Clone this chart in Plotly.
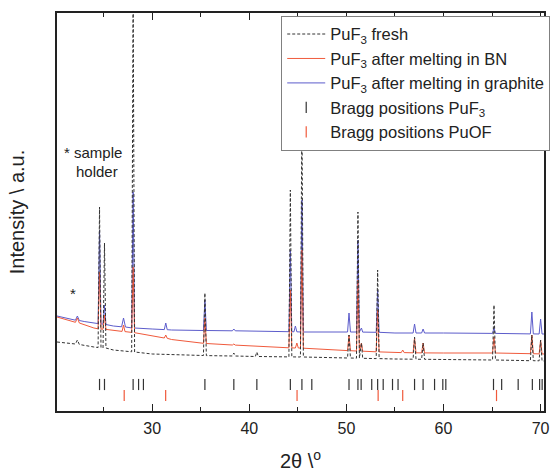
import plotly.graph_objects as go

# ---- data (2theta in degrees, intensity in arbitrary units) ----
tt_fresh = [20.2, 22.0, 22.1, 22.3, 22.5, 24.0, 24.43, 24.58, 24.73, 24.94, 25.09, 25.24, 26.0,
            27.89, 28.04, 28.19, 30.0, 35.28, 35.43, 35.58, 38.26, 38.41, 38.56, 40.63, 40.78, 40.93,
            44.08, 44.23, 44.38, 45.27, 45.42, 45.57, 50.12, 50.27, 50.42, 51.04, 51.19, 51.34,
            51.55, 51.68, 53.07, 53.22, 53.37, 55.0, 56.87, 57.02, 57.17, 57.75, 57.9, 58.05, 60.0,
            65.05, 65.2, 65.35, 68.95, 69.1, 69.25, 69.85, 70.0, 70.15, 70.35]
i_fresh = [69, 67, 67, 71, 66.5, 64, 63.5, 204, 63.5, 63, 168, 63, 61,
           59.2, 420, 59, 57, 55.5, 118, 55.4, 55, 58, 55, 54.5, 59, 54.5,
           54.1, 221, 54.1, 54, 300, 54, 53, 76, 53, 52.8, 199, 52.8,
           68, 52.7, 52.4, 141, 52.4, 52, 51.8, 74, 51.8, 51.7, 68, 51.7, 51.5,
           51, 106, 51, 50.3, 76, 50.3, 50.2, 71, 50.1, 50]

tt_bn = [20.2, 22.0, 22.1, 22.3, 22.5, 24.0, 24.43, 24.58, 24.73, 24.94, 25.09, 25.24, 26.0,
         26.9, 27.05, 27.2, 27.89, 28.04, 28.19, 30.0, 31.25, 31.4, 31.55, 32.0,
         35.28, 35.43, 35.58, 38.26, 38.41, 38.56, 40.0, 44.08, 44.23, 44.38, 44.75, 44.9, 45.05,
         45.27, 45.42, 45.57, 50.12, 50.27, 50.42, 51.04, 51.19, 51.34, 51.55, 51.68,
         53.07, 53.22, 53.37, 55.0, 55.65, 55.8, 55.95, 56.87, 57.02, 57.17, 57.75, 57.9, 58.05,
         60.0, 65.05, 65.2, 65.35, 68.95, 69.1, 69.25, 69.85, 70.0, 70.15, 70.35]
i_bn = [94, 89, 88.7, 93, 88, 83, 82.2, 139, 82, 81.8, 96, 81.6, 80.5,
        79.6, 86, 79.4, 78.6, 144, 78.3, 75, 73, 76, 72.7, 71.5,
        67.7, 93, 67.5, 66, 67, 65.9, 65, 63.2, 121, 63.1, 63, 68, 63,
        62.9, 161, 62.8, 60.4, 76, 60.3, 60, 131, 59.9, 68, 59.8,
        59.2, 101, 59.1, 58.5, 58.4, 61, 58.4, 58.2, 73, 58.2, 58.1, 68, 58.1,
        58, 58, 74, 58, 57.3, 76, 57.3, 57.1, 71, 57.1, 57]

tt_gr = [20.2, 21.0, 22.0, 22.1, 22.3, 22.5, 23.0, 24.0, 24.43, 24.58, 24.73, 24.94, 25.09, 25.24,
         26.0, 26.85, 27.05, 27.25, 27.89, 28.04, 28.19, 30.0, 31.25, 31.4, 31.55, 32.0,
         35.28, 35.43, 35.58, 38.26, 38.41, 38.56, 40.0, 44.08, 44.23, 44.38, 44.6, 44.75, 44.9,
         45.27, 45.42, 45.57, 50.12, 50.27, 50.42, 51.04, 51.19, 51.34, 51.55, 51.68,
         53.07, 53.22, 53.37, 55.0, 56.87, 57.02, 57.17, 57.75, 57.9, 58.05, 60.0,
         65.05, 65.2, 65.35, 68.95, 69.1, 69.25, 69.85, 70.0, 70.15, 70.35]
i_gr = [95, 93, 91, 90.8, 95, 90.5, 89.5, 88, 87.4, 181, 87.2, 86.8, 106, 86.5,
        85, 84.2, 93, 84, 83.1, 219, 83, 82, 81.4, 88, 81.3, 81,
        80.5, 111, 80.5, 80.2, 82, 80.2, 80, 79.3, 161, 79.3, 79.2, 85, 79.2,
        79, 211, 79, 79, 98, 79, 79, 171, 79, 83, 78.9,
        78.7, 121, 78.7, 78, 78, 87, 78, 78, 82, 78, 78,
        77.6, 83, 77.6, 77.1, 99, 77.1, 77, 92, 77, 77]

bragg_puf3 = [24.58, 25.09, 28.04, 28.6, 29.1, 35.43, 38.41, 40.78, 44.23, 45.42, 46.44,
              50.27, 51.19, 51.52, 52.61, 53.22, 53.79, 54.75, 55.32, 57.02, 57.9,
              59.08, 59.93, 60.24, 65.15, 65.99, 67.69, 69.15, 69.9, 70.16]
bragg_puof = [27.12, 31.39, 44.92, 53.27, 55.8, 65.46]

x_ticks = [30, 40, 50, 60, 70]

FONT = "Liberation Sans, Arial, sans-serif"
RED = "#F05A3C"
BLUE = "#5C5CCB"
BLACK = "#333333"

fig = go.Figure()
fig.add_trace(go.Scatter(x=tt_gr, y=i_gr, mode="lines", name="PuF<sub>3</sub> after melting in graphite",
                         line=dict(color=BLUE, width=1), legendrank=3))
fig.add_trace(go.Scatter(x=tt_bn, y=i_bn, mode="lines", name="PuF<sub>3</sub> after melting in BN",
                         line=dict(color=RED, width=1), legendrank=2))
fig.add_trace(go.Scatter(x=tt_fresh, y=i_fresh, mode="lines", name="PuF<sub>3</sub> fresh",
                         line=dict(color=BLACK, width=1, dash="3px,2px"), legendrank=1))
fig.add_trace(go.Scatter(x=bragg_puf3, y=[26.5] * len(bragg_puf3), mode="markers",
                         name="Bragg positions PuF<sub>3</sub>",
                         marker=dict(symbol="line-ns", size=8, color=BLACK,
                                     line=dict(color=BLACK, width=1.2)), legendrank=4))
fig.add_trace(go.Scatter(x=bragg_puof, y=[15.5] * len(bragg_puof), mode="markers",
                         name="Bragg positions PuOF",
                         marker=dict(symbol="line-ns", size=8, color=RED,
                                     line=dict(color=RED, width=1.2)), legendrank=5))

fig.add_annotation(x=23.92, y=259, text="* sample", showarrow=False, xref="x", yref="y",
                   font=dict(family=FONT, size=15, color="#222"))
fig.add_annotation(x=24.33, y=240, text="holder", showarrow=False, xref="x", yref="y",
                   font=dict(family=FONT, size=15, color="#222"))
fig.add_annotation(x=21.84, y=118, text="*", showarrow=False, xref="x", yref="y",
                   font=dict(family=FONT, size=15, color="#222"))

fig.update_layout(
    width=557, height=472,
    margin=dict(l=57, r=7, t=13, b=61),
    paper_bgcolor="white", plot_bgcolor="white",
    font=dict(family=FONT, color="#222"),
    showlegend=True,
    legend=dict(x=0.4604, y=0.993, xanchor="left", yanchor="top",
                bgcolor="white", bordercolor="#808080", borderwidth=1,
                font=dict(family=FONT, size=16.5, color="#222"),
                itemwidth=38, tracegroupgap=0),
    xaxis=dict(range=[20.2, 70.35], tickvals=x_ticks, ticks="inside", ticklen=7, tickwidth=1.2,
               tickcolor="#222", showline=True, linecolor="#222", linewidth=1.5, mirror="ticks",
               showgrid=False, zeroline=False, automargin=False, ticklabelstandoff=2,
               minor=dict(dtick=5, tick0=0, ticks="inside", ticklen=4, tickwidth=1.2, tickcolor="#222",
                          showgrid=False),
               tickfont=dict(family=FONT, size=16, color="#222"),
               title=dict(text="2θ \\<sup>o</sup>", font=dict(family=FONT, size=20, color="#222"),
                          standoff=24)),
    yaxis=dict(range=[0, 398], showticklabels=False, ticks="", showline=True, linecolor="#222",
               linewidth=1.5, mirror=True, showgrid=False, zeroline=False, automargin=False,
               title=dict(text="Intensity \\ a.u.", font=dict(family=FONT, size=20, color="#222"),
                          standoff=25)),
)

fig.write_html("out.html")
